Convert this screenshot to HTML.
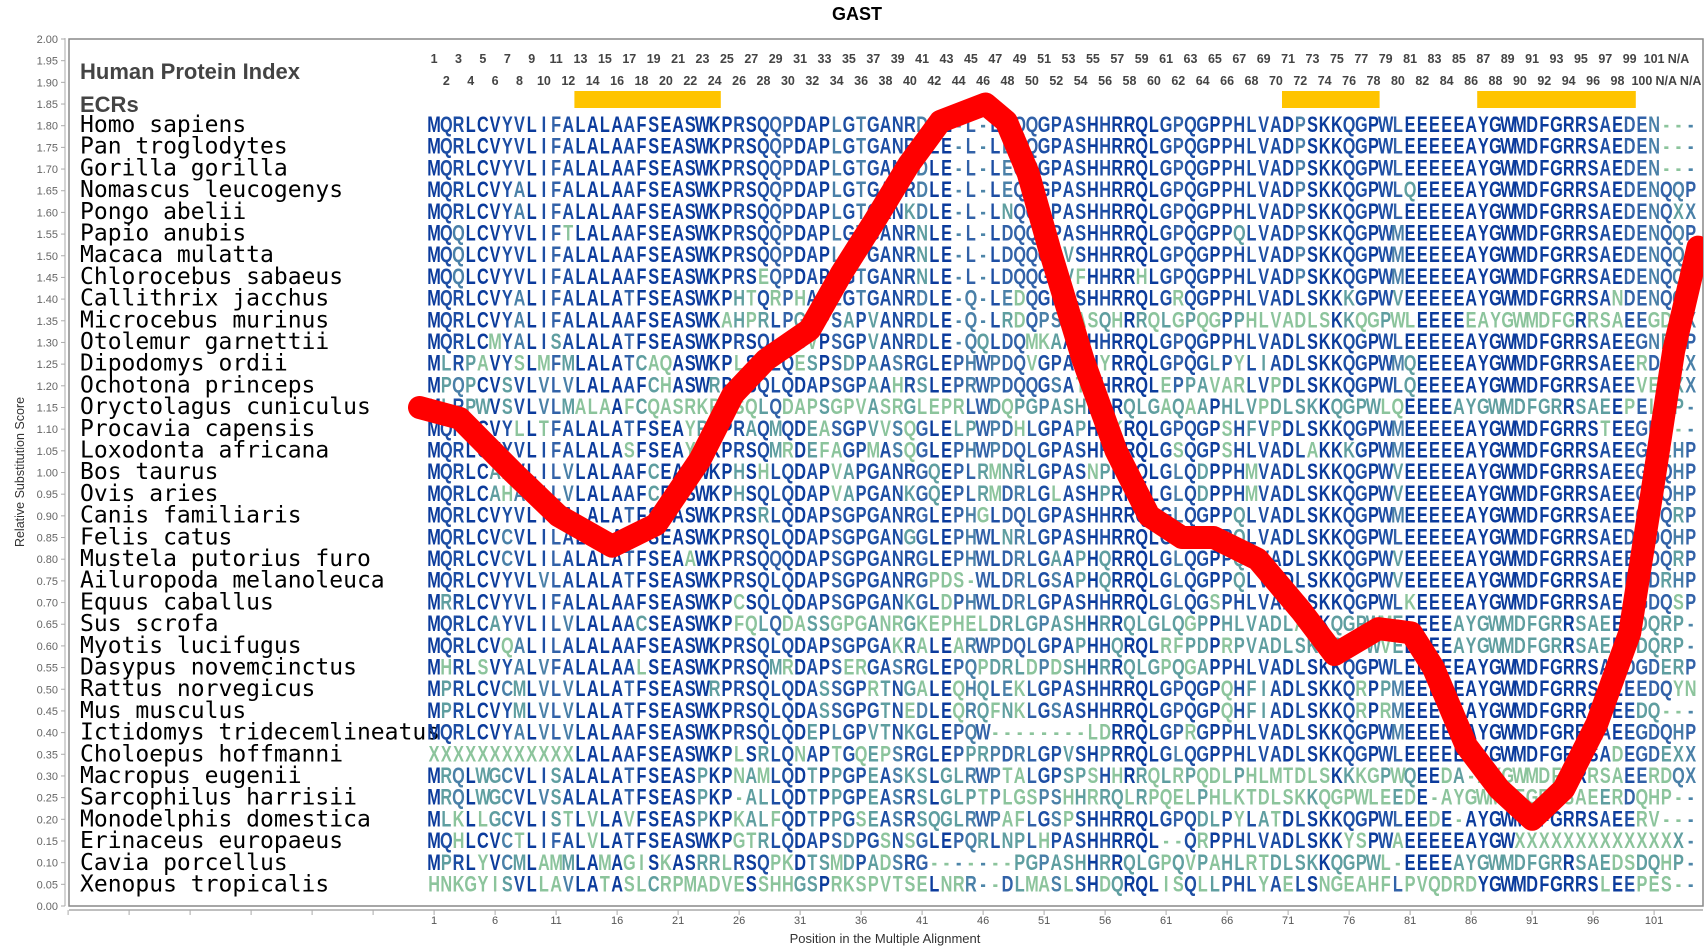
<!DOCTYPE html>
<html><head><meta charset="utf-8"><title>GAST</title>
<style>
html,body{margin:0;padding:0;background:#fff;}
svg{display:block;}
</style></head>
<body>
<svg id="chart" width="1706" height="950" viewBox="0 0 1706 950" xmlns="http://www.w3.org/2000/svg">
  <defs><clipPath id="plotclip"><rect x="69" y="39" width="1634" height="867"/></clipPath></defs>
  <text x="857" y="20" text-anchor="middle" font-family="Liberation Sans, sans-serif" font-weight="bold" font-size="18" fill="#000">GAST</text>
  <rect x="69" y="39" width="1634" height="867" fill="#fff" stroke="#888" stroke-width="1.5"/>
  <line x1="65" y1="38" x2="65" y2="906" stroke="#aaa" stroke-width="1"/>
  <line x1="69" y1="910" x2="1703" y2="910" stroke="#aaa" stroke-width="1.5"/>
  <g id="yaxis"></g>
  <g id="xaxis"></g>
  <text transform="translate(24,472) rotate(-90)" text-anchor="middle" font-family="Liberation Sans, sans-serif" font-size="12.5" fill="#333">Relative Substitution Score</text>
  <text x="885" y="943" text-anchor="middle" font-family="Liberation Sans, sans-serif" font-size="13" fill="#333">Position in the Multiple Alignment</text>
  <text x="80" y="79" font-family="Liberation Sans, sans-serif" font-weight="bold" font-size="22" fill="#444">Human Protein Index</text>
  <text x="80" y="112" font-family="Liberation Sans, sans-serif" font-weight="bold" font-size="22" fill="#444">ECRs</text>
  <g id="colnums"></g>
  <g id="ecrs"></g>
  <g id="names"></g>
  <g id="seqs"></g>
  <g clip-path="url(#plotclip)"><path id="scoreline" fill="none" stroke="#ff0000" stroke-width="23" stroke-linejoin="round" stroke-linecap="round"/></g>
</svg>
<script>
const positions = [-0.2,3.1,7.5,11.2,15.6,19.2,22.8,25.5,28.2,31.8,34.4,37.1,39.9,42.5,46.2,47.9,49.7,51.5,54.2,56.9,59.6,62.3,64.9,68.5,72.1,74.8,78.4,81.1,82.9,85.6,88.3,91.0,93.6,96.3,99.0,100.8,102.6,104.6];
const scores = [1.15,1.125,1.0,0.9,0.83,0.88,1.03,1.18,1.26,1.33,1.46,1.58,1.71,1.81,1.85,1.81,1.69,1.51,1.26,1.05,0.9,0.85,0.85,0.8,0.68,0.58,0.64,0.63,0.55,0.37,0.27,0.2,0.27,0.42,0.63,0.95,1.28,1.52];
const yTicks = ["0.00","0.05","0.10","0.15","0.20","0.25","0.30","0.35","0.40","0.45","0.50","0.55","0.60","0.65","0.70","0.75","0.80","0.85","0.90","0.95","1.00","1.05","1.10","1.15","1.20","1.25","1.30","1.35","1.40","1.45","1.50","1.55","1.60","1.65","1.70","1.75","1.80","1.85","1.90","1.95","2.00"];
const xTicks = [1,6,11,16,21,26,31,36,41,46,51,56,61,66,71,76,81,86,91,96,101];
const ecrs = [[13,24],[71,78],[87,99]];
const species = ["Homo sapiens","Pan troglodytes","Gorilla gorilla","Nomascus leucogenys","Pongo abelii","Papio anubis","Macaca mulatta","Chlorocebus sabaeus","Callithrix jacchus","Microcebus murinus","Otolemur garnettii","Dipodomys ordii","Ochotona princeps","Oryctolagus cuniculus","Procavia capensis","Loxodonta africana","Bos taurus","Ovis aries","Canis familiaris","Felis catus","Mustela putorius furo","Ailuropoda melanoleuca","Equus caballus","Sus scrofa","Myotis lucifugus","Dasypus novemcinctus","Rattus norvegicus","Mus musculus","Ictidomys tridecemlineatus","Choloepus hoffmanni","Macropus eugenii","Sarcophilus harrisii","Monodelphis domestica","Erinaceus europaeus","Cavia porcellus","Xenopus tropicalis"];
const sequences = [
"MQRLCVYVLIFALALAAFSEASWKPRSQQPDAPLGTGANRDLE-L-LEQQGPASHHRRQLGPQGPPHLVADPSKKQGPWLEEEEEAYGWMDFGRRSAEDEN---",
"MQRLCVYVLIFALALAAFSEASWKPRSQQPDAPLGTGANRDLE-L-LEQQGPASHHRRQLGPQGPPHLVADPSKKQGPWLEEEEEAYGWMDFGRRSAEDEN---",
"MQRLCVYVLIFALALAAFSEASWKPRSQQPDAPLGTGANRDLE-L-LEQQGPASHHRRQLGPQGPPHLVADPSKKQGPWLEEEEEAYGWMDFGRRSAEDEN---",
"MQRLCVYALIFALALAAFSEASWKPRSQQPDAPLGTGANRDLE-L-LEQQGPASHHRRQLGPQGPPHLVADPSKKQGPWLQEEEEAYGWMDFGRRSAEDENQQP",
"MQRLCVYALIFALALAAFSEASWKPRSQQPDAPLGTGANKDLE-L-LNQQGPASHHRRQLGPQGPPHLVADPSKKQGPWLEEEEEAYGWMDFGRRSAEDENQXX",
"MQQLCVYVLIFTLALAAFSEASWKPRSQQPDAPLGTGANRNLE-L-LDQQGPASHHRRQLGPQGPPQLVADPSKKQGPWMEEEEEAYGWMDFGRRSAEDENQQP",
"MQQLCVYVLIFALALAAFSEASWKPRSQQPDAPLGTGANRNLE-L-LDQQGLVSHHRRQLGPQGPPHLVADPSKKQGPWMEEEEEAYGWMDFGRRSAEDENQQP",
"MQQLCVYVLIFALALAAFSEASWKPRSEQPDAPLGTGANRNLE-L-LDQQGPVFHHRRHLGPQGPPHLVADPSKKQGPWMEEEEEAYGWMDFGRRSAEDENQQP",
"MQRLCVYALIFALALATFSEASWKPHTQRPHAPLGTGANRDLE-Q-LEDQGPASHHRRQLGRQGPPHLVADLSKKKGPWVEEEEEAYGWMDFGRRSANDENQQP",
"MQRLCVYALIFALALAAFSEASWKAHPRLPGAPSAPVANRDLE-Q-LRDQPSAASQHRRQLGPQGPPHLVADLSKKQGPWLEEEEEAYGWMDFGRRSAEEGDQXX",
"MQRLCMYALISALALATFSEASWKPRSQLPGVPSGPVANRDLE-QQLDQMKAASHHRRQLGPQGPPHLVADLSKKQGPWLEEEEEAYGWMDFGRRSAEEGNEHP",
"MLRPAVYSLMFMLALATCAQASWKPLSHLQESPSDPAASRGLEPHWPDQVGPASHYRRQLGPQGLPYLIADLSKKQGPWMQEEEEAYGWMDFGRRSAEERDPXX",
"MPQPCVSVLVLVLALAAFCHASWRPHSQLQDAPSGPAAHRSLEPRWPDQQGSATYHRRQLEPPAVARLVPDLSKKQGPWLQEEEEAYGWMDFGRRSAEEVEQXX",
"MLRPWVSVLVLMALAAFCQASRKPHSQLQDAPSGPVASRGLEPRLWDQPGPASHHRRQLGAQAAPHLVPDLSKKQGPWLQEEEEAYGWMDFGRRSAEEPELRP",
"MQRLCVYLLTFALALATFSEAYRRPRAQMQDEASGPVVSQGLELPWPDHLGPAPHHKRQLGPQGPSHFVPDLSKKQGPWMEEEEEAYGWMDFGRRSTEEGD---",
"MQRLCVYVLIFALALASFSEAYRKPRSQMRDEFAGPMASQGLEPHWPDQLGPASHHKRQLGSQGPSHLVADLAKKKGPWMEEEEEAYGWMDFGRRSAEEGDEHP",
"MQRLCAHVLILVLALAAFCEASWKPHSHLQDAPVAPGANRGQEPLRMNRLGPASNPRRQLGLQDPPHMVADLSKKQGPWVEEEEEAYGWMDFGRRSAEEGDQHP",
"MQRLCAHALILVLALAAFCEASWKPHSQLQDAPVAPGANKGQEPLRMDRLGLASHPRRQLGLQDPPHMVADLSKKQGPWVEEEEEAYGWMDFGRRSAEEGDQHP",
"MQRLCVYVLILALALATFSEASWKPRSRLQDAPSGPGANRGLEPHGLDQLGPASHHRRQLGLQGPPQLVADLSKKQGPWMEEEEEAYGWMDFGRRSAEEGDQRP",
"MQRLCVCVLILALALATFSEASWKPRSQLQDAPSGPGANGGLEPHWLNRLGPASHHRRQLGLQGPPQLVADLSKKQGPWLEEEEEAYGWMDFGRRSAEDGDQHP",
"MQRLCVCVLILALALATFSEAAWKPRSQQQDAPSGPGANRGLEPHWLDRLGAAPHQRRQLGLQGPPQLVADLSKKQGPWVEEEEEAYGWMDFGRRSAEEGDQRP",
"MQRLCVYVLVLALALATFSEASWKPRSQLQDAPSGPGANRGPDS-WLDRLGSAPHQRRQLGLQGPPQLVADLSKKQGPWVEEEEEAYGWMDFGRRSAEEGDRHP",
"MRRLCVYVLIFALALAAFSEASWKPCSQLQDAPSGPGANKGLDPHWLDRLGPASHHRRQLGLQGSPHLVADLSKKQGPWLKEEEEAYGWMDFGRRSAEEGDQSP",
"MQRLCAYVLILVLALAACSEASWKPFQLQDASSGPGANRGKEPHELDRLGPASHHRRQLGLQGPPHLVADLAKKQGPWMEEEEEAYGWMDFGRRSAEEGDQRP",
"MQRLCVQALILALALAAFSEASWKPRSQLQDAPSGPGAKRALEARWPDQLGPAPHHQRQLRFPDPRPVADLSKKQGPWVEEEEEAYGWMDFGRRSAEEGDQRP",
"MHRLSVYALVFALALAALSEASWKPRSQMRDAPSERGASRGLEPQPDRLDPDSHHRRQLGPQGAPPHLVADLSKKQGPWLEEEEEAYGWMDFGRRSAQDGDERP",
"MPRLCVCMLVLVLALATFSEASWRPRSQLQDASSGPRTNGALEQHQLEKLGPASHHRRQLGPQGPQHFIADLSKKQRPPMEEEEEAYGWMDFGRRSAEEEDQYN",
"MPRLCVYMLVLVLALATFSEASWKPRSQLQDASSGPGTNEDLEQRQFNKLGSASHHRRQLGPQGPQHFIADLSKKQRPRMEEEEEAYGWMDFGRRSAEEDQ---",
"MQRLCVYALVLVLALAAFSEASWKPRSQLQDEPLGPVTNKGLEPQW--------LDRRQLGPRGPPHLVADLSKKQGPWMEEEEEAYGWMDFGRRSAEEGDQHP",
"XXXXXXXXXXXXLALAAFSEASWKPLSRLQNAPTGQEPSRGLEPPRPDRLGPVSHPRRQLGLQGPPHLVADLSKKQGPWLEEEEEAYGWMDFGRRSADEGDEXX",
"MRQLWGCVLISALALATFSEASPKPNAMLQDTPPGPEASKSLGLRWPTALGPSPSHHRRQLRPQDLPHLMTDLSKKKGPWQEEDA-AYGWMDFGRRSAEERDQXX",
"MRQLWGCVLVSALALATFSEASPKP-ALLQDTPPGPEASRSLGLPTPLGSPSHHRRQLRPQELPHLKTDLSKKQGPWLEEDE-AYGWMDFGRRSAEERDQHP",
"MLKLLGCVLISTLVLAVFSEASPKPKALFQDTPPGSEASRSQGLRWPAFLGSPSHHRRQLGPQDLPYLATDLSKKQGPWLEEDE-AYGWMDFGRRSAEERV---",
"MQHLCVCTLIFALVLATFSEASWKPGTRLQDAPSDPGSNSGLEPQRLNPLHPASHHRRQL--QRPPHLVADLSKKYSPWAEEEEEAYGWXXXXXXXXXXXXXX",
"MPRLYVCMLAMMLAMAGISKASRRLRSQPKDTSMDPADSRG-------PGPASHHRRQLGPQVPAHLRTDLSKKQGPWL-EEEEAYGWMDFGRRSAEDSDQHP",
"HNKGYISVLLAVLATASLCRPMADVESSHHGSPRKSPVTSELNRR--DLMASLSHDQRQLISQLLPHLYAELSNGEAHFLPVQDRDYGWMDFGRRSLEEPES--"
];

const NS = "http://www.w3.org/2000/svg";
const NCOL = 104, COLW = 12.2, X0 = 428;
function colX(c){ return X0 + (c - 0.5) * COLW; }
function xPos(p){ return X0 + (p - 0.5) * COLW; }
function yVal(v){ return 906 - v * 433.5; }
function rowY(i){ return 124 + i * 21.7; }
function mk(tag, attrs, parent){ const e = document.createElementNS(NS, tag); for (const k in attrs) e.setAttribute(k, attrs[k]); parent.appendChild(e); return e; }

const ya = document.getElementById('yaxis');
yTicks.forEach(t => {
  const y = yVal(parseFloat(t));
  const l = mk('line', {x1:61, x2:65, y1:y, y2:y, stroke:'#aaa'}, ya);
  
  
  const tx = mk('text', {x:58, y:y+4, 'text-anchor':'end', 'font-family':'Liberation Sans, sans-serif', 'font-size':'11', fill:'#666'}, ya);
  
  
  tx.textContent = t;
});

const xa = document.getElementById('xaxis');
for (let p = 1 - 5*6; p <= 101; p += 5) {
  const x = xPos(p);
  if (x < 68) continue;
  const l = mk('line', {x1:x, x2:x, y1:910, y2:915, stroke:'#aaa'}, xa);
  
  
}
xTicks.forEach(p => {
  const tx = mk('text', {x:xPos(p), y:924, 'text-anchor':'middle', 'font-family':'Liberation Sans, sans-serif', 'font-size':'11', fill:'#555'}, xa);
  
  
  tx.textContent = p;
});

const cn = document.getElementById('colnums');
for (let c = 1; c <= NCOL; c++) {
  const label = c <= 101 ? String(c) : 'N/A';
  const top = (c % 2 === 1);
  const tx = mk('text', {x:colX(c), y: top ? 63 : 85, 'text-anchor':'middle', 'font-family':'Liberation Sans, sans-serif', 'font-weight':'bold', 'font-size':'12.5', fill:'#444'}, cn);
  
  
  tx.textContent = label;
}

const eg = document.getElementById('ecrs');
ecrs.forEach(r => {
  const b = mk('rect', {x:X0 + (r[0]-1)*COLW, y:91, width:(r[1]-r[0]+1)*COLW, height:17, fill:'#ffc400'}, eg);
  
  
});

const ng = document.getElementById('names');
species.forEach((s, i) => {
  const tx = mk('text', {x:80, y:rowY(i)+8, 'font-family':'DejaVu Sans Mono, Liberation Mono, monospace', 'font-size':'23', fill:'#000', 'xml:space':'preserve'}, ng);
  
  
  tx.textContent = s;
});

const norm = sequences.map(s => (s.length >= NCOL ? s.slice(0, NCOL) : s + '-'.repeat(NCOL - s.length)));
const colFreq = [];
for (let c = 0; c < NCOL; c++) {
  const m = {};
  norm.forEach(s => { m[s[c]] = (m[s[c]] || 0) + 1; });
  colFreq.push(m);
}
function colorFor(ch, f) {
  if (ch === '-') return f > 0.3 ? '#4d85a8' : '#8cc49c';
  if (f >= 0.75) return '#0b3b9c';
  if (f >= 0.5) return '#1d4ea4';
  if (f >= 0.3) return '#3262a8';
  if (f >= 0.15) return '#4a80a8';
  if (f >= 0.06) return '#5f9ea0';
  return '#8cc49c';
}
const SX = 0.74;
const sg = document.getElementById('seqs');
norm.forEach((s, i) => {
  const g = mk('g', {transform:'scale(' + SX + ',1)'}, sg);
  
  
  for (let c = 0; c < NCOL; c++) {
    const ch = s[c];
    const f = colFreq[c][ch] / norm.length;
    const tx = mk('text', {x:(colX(c+1))/SX, y:rowY(i)+8, 'text-anchor':'middle', 'font-family':'Liberation Sans, sans-serif', 'font-weight':'bold', 'font-size':'22', fill:colorFor(ch, f)}, g);
    
    
    tx.textContent = ch;
  }
});

let d = '';
positions.forEach((p, i) => { d += (i ? 'L' : 'M') + xPos(p).toFixed(1) + ',' + yVal(scores[i]).toFixed(1); });
document.getElementById('scoreline').setAttribute('d', d);
</script>
</body></html>
